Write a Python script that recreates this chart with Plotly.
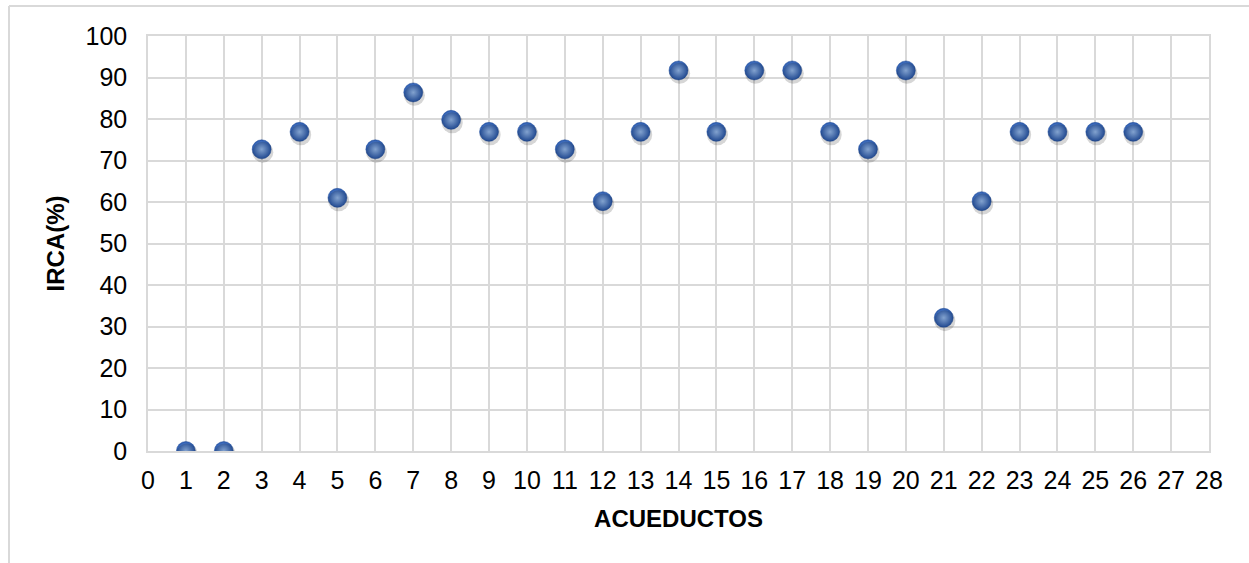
import plotly.graph_objects as go

# IRCA index (%) per aqueduct
acueductos = list(range(1, 27))
irca = [0.0, 0.0, 72.7, 76.9, 61.0, 72.7, 86.4, 79.8, 76.9, 76.9, 72.7, 60.2, 76.9,
        91.7, 76.9, 91.7, 91.7, 76.9, 72.7, 91.7, 32.1, 60.2, 76.9, 76.9, 76.9, 76.9]

x_ticks = list(range(0, 29))
y_ticks = list(range(0, 101, 10))

W, H = 1249, 563
L, R, T, B = 148, 40, 36, 112
pw, ph = W - L - R, H - T - B

fig = go.Figure()

# drop shadow: same points on a slightly shifted overlay axis so it falls below-right
fig.add_trace(go.Scatter(
    x=acueductos, y=irca, mode="markers", hoverinfo="skip",
    xaxis="x2", yaxis="y2",
    marker=dict(size=21, color="rgba(0,0,0,0.16)", line=dict(width=0)),
))
# glossy sphere markers
fig.add_trace(go.Scatter(
    x=acueductos, y=irca, mode="markers",
    marker=dict(size=19, color="#2858ad",
                gradient=dict(type="radial", color="#9cc2f7"),
                line=dict(width=0.5, color="#204c99")),
))

grid = "#d9d9d9"
font_main = dict(family="Liberation Sans, Arial, sans-serif", size=25, color="#000000")

fig.update_layout(
    width=W, height=H,
    margin=dict(l=L, r=R, t=T, b=B),
    paper_bgcolor="white", plot_bgcolor="white",
    showlegend=False,
    font=font_main,
    xaxis=dict(
        range=[0, 28], tickvals=x_ticks, ticktext=[str(v) for v in x_ticks],
        showgrid=True, gridcolor=grid, gridwidth=1.5,
        showline=True, linecolor=grid, linewidth=1.5, mirror=True,
        zeroline=False, ticks="outside", ticklen=6, tickcolor="rgba(0,0,0,0)",
        title=dict(text="<b>ACUEDUCTOS</b>", font=dict(size=24), standoff=17),
    ),
    yaxis=dict(
        range=[0, 100], tickvals=y_ticks, ticktext=[str(v) for v in y_ticks],
        showgrid=True, gridcolor=grid, gridwidth=1.5,
        showline=True, linecolor=grid, linewidth=1.5, mirror=True,
        zeroline=False, ticks="outside", ticklen=14, tickcolor="rgba(0,0,0,0)",
        title=dict(text="<b>IRCA(%)</b>", font=dict(size=24), standoff=14),
    ),
    xaxis2=dict(range=[-0.03, 27.97], overlaying="x", visible=False),
    yaxis2=dict(range=[0.7, 100.7], overlaying="y", visible=False),
    shapes=[
        # chart frame (left and top edges)
        dict(type="line", xref="paper", yref="paper",
             x0=(9 - L) / pw, x1=(9 - L) / pw, y0=1 + (T - 6) / ph, y1=-1,
             line=dict(color=grid, width=2)),
        dict(type="line", xref="paper", yref="paper",
             x0=(9 - L) / pw, x1=2, y0=1 + (T - 6) / ph, y1=1 + (T - 6) / ph,
             line=dict(color=grid, width=2)),
    ],
)

fig.write_html("out.html")
